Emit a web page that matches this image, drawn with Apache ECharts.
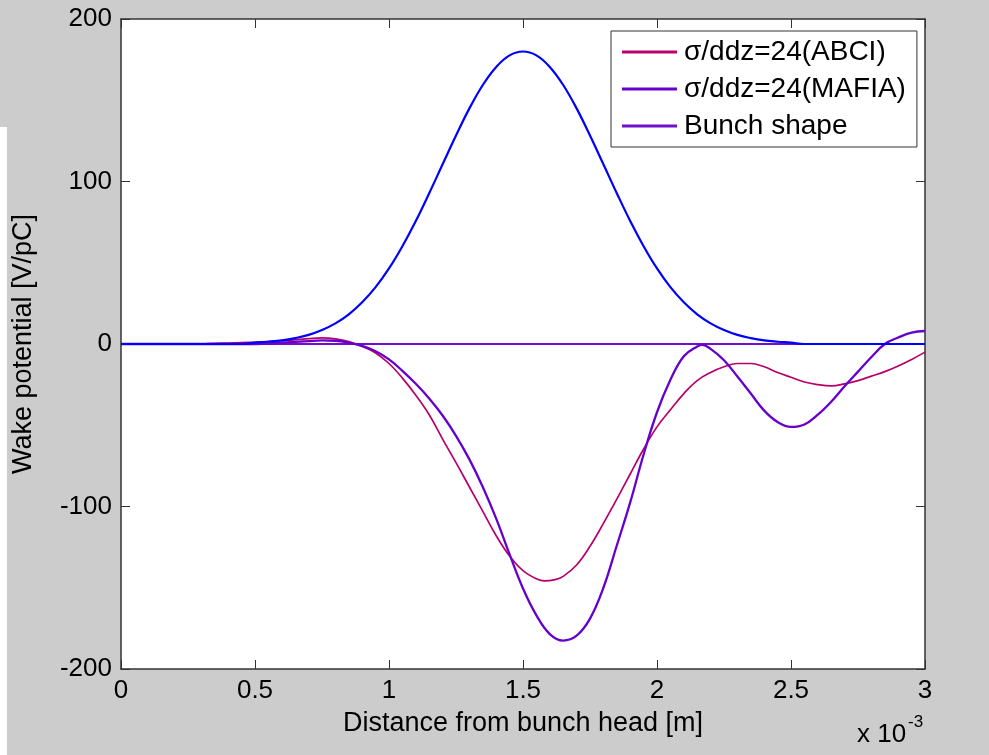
<!DOCTYPE html>
<html>
<head>
<meta charset="utf-8">
<script src="https://cdn.jsdelivr.net/npm/echarts@6/dist/echarts.min.js"></script>
<style>
html,body{margin:0;padding:0;background:#cccccc;}
#chart{width:989px;height:755px;}
</style>
</head>
<body>
<div id="chart"></div>
<script>
// ---- data (x in units of 1e-3 m) ----
const xTicks = [0, 0.5, 1, 1.5, 2, 2.5, 3];
const yTicks = [-200, -100, 0, 100, 200];

const abciX = [0.32,0.4,0.5,0.6,0.7,0.75,0.8,0.85,0.9,0.95,1.0,1.05,1.1,1.15,1.2,1.25,1.3,1.35,1.4,1.45,1.5,1.55,1.58,1.62,1.65,1.7,1.75,1.8,1.85,1.9,1.95,2.0,2.05,2.1,2.15,2.2,2.25,2.3,2.35,2.4,2.45,2.5,2.55,2.6,2.65,2.7,2.75,2.8,2.85,2.9,2.95,3.0];
const abciY = [0.3,0.6,1.2,2.0,3.3,3.8,3.2,1.5,-1.5,-5.5,-12,-21,-31.5,-43.5,-58.5,-73,-88,-103,-118,-130.5,-139.5,-144.5,-145.8,-145,-143,-136,-124.5,-110.4,-95.5,-80,-64.6,-51,-40.5,-30.5,-22.5,-17.5,-14,-12,-12,-14,-17.5,-20.5,-23.4,-25,-25.8,-24.5,-22.5,-19.8,-17,-13.5,-9.5,-5];

const mafiaX = [0,0.5,0.6,0.7,0.75,0.8,0.85,0.9,0.95,1.0,1.05,1.1,1.15,1.2,1.25,1.3,1.35,1.4,1.45,1.5,1.55,1.6,1.65,1.7,1.75,1.8,1.85,1.9,1.95,2.0,2.05,2.1,2.15,2.17,2.2,2.25,2.3,2.35,2.4,2.45,2.5,2.55,2.6,2.65,2.7,2.75,2.8,2.85,2.9,2.95,3.0];
const mafiaY = [0,0,0.8,1.8,2.2,2.0,0.8,-1.2,-4.5,-9.5,-16.5,-24.5,-33.5,-44,-56.5,-71,-88,-107.5,-129.5,-150.5,-167,-178.5,-182.5,-179.5,-169,-150,-124,-97.5,-68,-42,-22,-7.5,-1.5,-0.5,-3,-10,-20,-30.5,-41,-48,-51,-49.5,-43.5,-35.5,-26,-17,-8,0,4,7,8];

const zeroX = [0, 3];
const zeroY = [0, 0];

const bunchX = [0,0.45,0.5,0.55,0.6,0.65,0.7,0.75,0.8,0.85,0.9,0.95,1.0,1.05,1.1,1.15,1.2,1.25,1.3,1.35,1.4,1.45,1.5,1.55,1.6,1.65,1.7,1.75,1.8,1.85,1.9,1.95,2.0,2.05,2.1,2.15,2.2,2.25,2.3,2.35,2.4,2.45,2.5,2.55,3.0];
const bunchY = [0,0,0.8,1.4,2.2,3.6,5.6,8.6,12.7,18.3,25.7,35.0,46.5,60.2,75.7,92.8,110.6,128.3,145.0,159.4,170.5,177.6,180,177.6,170.5,159.4,145.0,128.3,110.6,92.8,75.7,60.2,46.5,35.0,25.7,18.3,12.7,8.6,5.6,3.6,2.2,1.4,0.8,0,0];

const names = ['σ/ddz=24(ABCI)', 'σ/ddz=24(MAFIA)', 'Bunch shape'];
const colors = { abci: '#b8006c', mafia: '#6600cc', zero: '#7010c8', bunch: '#0000ff' };

function pairs(xs, ys) { return xs.map((x, i) => [x, ys[i]]); }

const FONT = '"Liberation Sans", Arial, Helvetica, sans-serif';
const axisColor = '#333333';

const chart = echarts.init(document.getElementById('chart'), null, { renderer: 'canvas' });

function boxAxis(extra) {
  return Object.assign({
    axisLine: { show: true, onZero: false, lineStyle: { color: axisColor, width: 1.5 } },
    axisTick: { show: true, inside: true, length: 9, lineStyle: { color: axisColor } },
    splitLine: { show: false }
  }, extra);
}

const option = {
  backgroundColor: '#cccccc',
  animation: false,
  textStyle: { fontFamily: FONT },
  grid: { left: 121, top: 19, right: 64, bottom: 86, backgroundColor: '#ffffff', show: true, borderWidth: 0 },
  legend: {
    data: names,
    orient: 'vertical',
    left: 611, top: 31,
    backgroundColor: '#ffffff',
    borderColor: '#333333', borderWidth: 1,
    padding: [6, 11, 6, 11],
    itemWidth: 55, itemHeight: 3, itemGap: 7,
    icon: 'rect',
    textStyle: { fontFamily: FONT, fontSize: 28, color: '#000', lineHeight: 30, padding: [0, 0, 0, 2] }
  },
  xAxis: [
    boxAxis({
      type: 'value', min: 0, max: 3, interval: 0.5, position: 'bottom',
      name: 'Distance from bunch head [m]', nameLocation: 'middle', nameGap: 41,
      nameTextStyle: { fontFamily: FONT, fontSize: 27, color: '#000' },
      axisLabel: { fontFamily: FONT, fontSize: 26, color: '#000', margin: 9, formatter: v => String(v) }
    }),
    boxAxis({
      type: 'value', min: 0, max: 3, interval: 0.5, position: 'top',
      axisLabel: { show: false }
    })
  ],
  yAxis: [
    boxAxis({
      type: 'value', min: -200, max: 200, interval: 100, position: 'left',
      name: 'Wake potential [V/pC]', nameLocation: 'middle', nameGap: 84, nameRotate: 90,
      nameTextStyle: { fontFamily: FONT, fontSize: 27, color: '#000' },
      axisLabel: { fontFamily: FONT, fontSize: 26, color: '#000', margin: 9 }
    }),
    boxAxis({
      type: 'value', min: -200, max: 200, interval: 100, position: 'right',
      axisLabel: { show: false }
    })
  ],
  series: [
    { name: names[2], type: 'line', data: pairs(zeroX, zeroY), showSymbol: false,
      lineStyle: { color: colors.zero, width: 2.2 }, itemStyle: { color: colors.zero } },
    { name: names[0], type: 'line', data: pairs(abciX, abciY), showSymbol: false, smooth: 0.4,
      lineStyle: { color: colors.abci, width: 1.7 }, itemStyle: { color: colors.abci } },
    { name: names[1], type: 'line', data: pairs(mafiaX, mafiaY), showSymbol: false, smooth: 0.4,
      lineStyle: { color: colors.mafia, width: 2.3 }, itemStyle: { color: colors.mafia } },
    { name: 'bunch', type: 'line', data: pairs(bunchX, bunchY), showSymbol: false, smooth: 0.4,
      lineStyle: { color: colors.bunch, width: 2.2 }, itemStyle: { color: colors.bunch } }
  ],
  graphic: [
    { type: 'rect', left: 0, top: 127, shape: { width: 7, height: 628 }, style: { fill: '#ffffff' } },
    { type: 'text', left: 857, top: 722, style: { text: 'x 10', font: '26px ' + FONT, fill: '#000' } },
    { type: 'text', left: 908, top: 714, style: { text: '-3', font: '17px ' + FONT, fill: '#000' } }
  ]
};
chart.setOption(option);
</script>
</body>
</html>
